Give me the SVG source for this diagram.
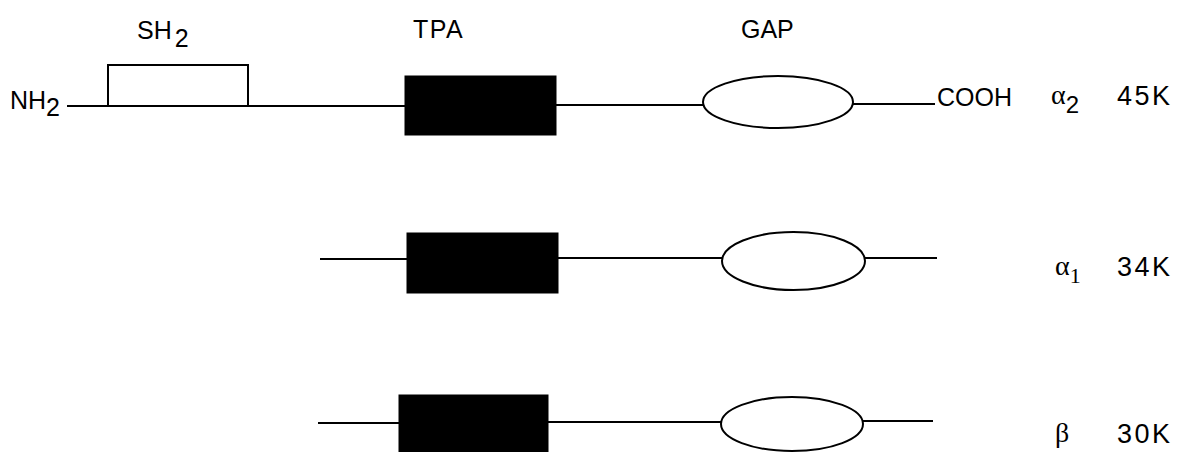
<svg xmlns="http://www.w3.org/2000/svg" width="1192" height="452" viewBox="0 0 1192 452">
  <style>
    .bb { stroke: #000; stroke-width: 2; fill: none; }
    .dom-open { stroke: #000; stroke-width: 2; fill: #fff; }
    .dom-fill { fill: #000; stroke: #000; stroke-width: 1; }
    .lbl { font-family: "Liberation Sans", Arial, sans-serif; font-size: 25px; fill: #000; }
    .mw { font-size: 27px; letter-spacing: 2.5px; }
    .greek { font-family: "Liberation Serif", "Times New Roman", serif; font-size: 28px; fill: #000; }
  </style>
  <rect width="1192" height="452" fill="#fff"/>

  <!-- domain headings -->
  <g id="headings">
    <text class="lbl" x="137" y="39">SH<tspan dx="3" dy="8">2</tspan></text>
    <text class="lbl" x="413" y="38" font-size="27" letter-spacing="1.5">TPA</text>
    <text class="lbl" x="741" y="38" font-size="26">GAP</text>
  </g>

  <!-- backbone lines -->
  <g id="connectors">
    <line class="bb" x1="67" y1="106" x2="405" y2="106"/>
    <line class="bb" x1="556" y1="105" x2="703" y2="105"/>
    <line class="bb" x1="853" y1="104" x2="935" y2="104"/>
    <line class="bb" x1="320" y1="259" x2="407" y2="259"/>
    <line class="bb" x1="558" y1="258" x2="722" y2="258"/>
    <line class="bb" x1="865" y1="258" x2="937" y2="258"/>
    <line class="bb" x1="318" y1="423" x2="399" y2="423"/>
    <line class="bb" x1="548" y1="422" x2="721" y2="422"/>
    <line class="bb" x1="863" y1="421" x2="933" y2="421"/>
  </g>

  <!-- alpha2 isoform, 45K -->
  <g id="alpha2">
    <text class="lbl" x="10" y="109" font-size="24">NH<tspan dy="7">2</tspan></text>
    <rect id="alpha2-sh2" class="dom-open" x="108" y="65" width="140" height="41"/>
    <rect id="alpha2-tpa" class="dom-fill" x="405" y="76" width="151" height="59"/>
    <ellipse id="alpha2-gap" class="dom-open" cx="778" cy="102" rx="75" ry="26"/>
    <text class="lbl" x="937" y="106">COOH</text>
    <text class="greek" x="1051" y="104">α<tspan font-family="Liberation Sans, Arial, sans-serif" font-size="24" dy="9">2</tspan></text>
    <text class="lbl mw" x="1117" y="105">45K</text>
  </g>

  <!-- alpha1 isoform, 34K -->
  <g id="alpha1">
    <rect id="alpha1-tpa" class="dom-fill" x="407" y="233" width="151" height="60"/>
    <ellipse id="alpha1-gap" class="dom-open" cx="793.5" cy="261" rx="71.5" ry="29"/>
    <text class="greek" x="1055" y="275">α<tspan font-size="22" dy="8">1</tspan></text>
    <text class="lbl mw" x="1117" y="276">34K</text>
  </g>

  <!-- beta isoform, 30K -->
  <g id="beta">
    <rect id="beta-tpa" class="dom-fill" x="399" y="395" width="149" height="60"/>
    <ellipse id="beta-gap" class="dom-open" cx="792" cy="424" rx="71" ry="27"/>
    <text class="greek" x="1055" y="442">β</text>
    <text class="lbl mw" x="1117" y="443">30K</text>
  </g>
</svg>
